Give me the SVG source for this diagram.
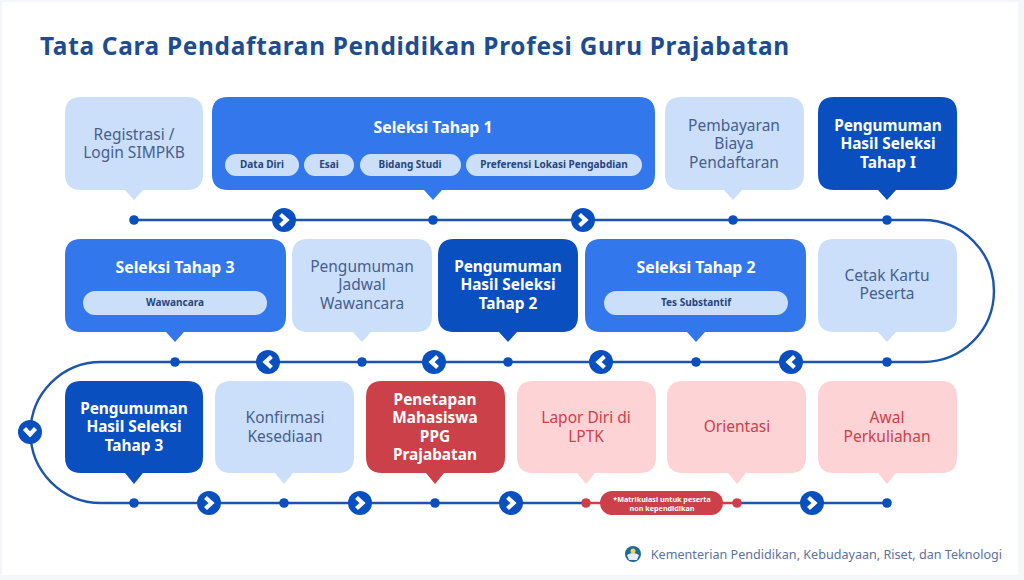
<svg xmlns="http://www.w3.org/2000/svg" width="1024" height="580" viewBox="0 0 1024 580">
<style>
text{font-family:"Noto Sans","Open Sans","Liberation Sans",sans-serif;text-anchor:middle}
.light{fill:#cbdffa}.mid{fill:#3277ec}.dark{fill:#0a4fc0}.red{fill:#cc4049}.pink{fill:#fdd3d6}
.tl{font-size:15.5px;fill:#46608f}.tw{font-size:15.4px;font-weight:700;fill:#fff}.th{font-size:15.8px;font-weight:700;fill:#fff}.tp{font-size:15.5px;fill:#cc4049}
.chip{font-size:10px;font-weight:700;fill:#27467c}.pill{fill:#cbdffa}
.line{fill:none;stroke:#1d55ad;stroke-width:2.4}.dot{fill:#0a4fc0}.rdot{fill:#cc4049}.chev{fill:none;stroke:#fff;stroke-width:4.2;stroke-linecap:butt;stroke-linejoin:miter}
</style>
<defs>
<g id="chv"><circle r="12" fill="#0a4fc0"/><path class="chev" d="M-3.500-5.500 2.500 0-3.500 5.500"/></g>
</defs>
<rect width="1024" height="580" fill="#f4f6f9"/>
<rect x="2" y="2" width="1016" height="573" fill="#fff"/>
<text id="title" x="40" y="55" style="text-anchor:start;font-size:24.4px;font-weight:700;fill:#1d4c8f;letter-spacing:.7px">Tata Cara Pendaftaran Pendidikan Profesi Guru Prajabatan</text>

<g id="connectors">
<path class="line" d="M134 220H923A71 71 0 0 1 923 362H101A70.500 70.500 0 0 0 101 503H586"/>
<path class="line" d="M737 503H887"/>
<path d="M586 503H737" fill="none" stroke="#cc4049" stroke-width="2.400"/>
</g>

<g id="dots">
<circle class="dot" cx="134" cy="220" r="4.800"/><circle class="dot" cx="433" cy="220" r="4.800"/><circle class="dot" cx="733" cy="220" r="4.800"/><circle class="dot" cx="887" cy="220" r="4.800"/>
<circle class="dot" cx="175" cy="362" r="4.800"/><circle class="dot" cx="362" cy="362" r="4.800"/><circle class="dot" cx="508" cy="362" r="4.800"/><circle class="dot" cx="696" cy="362" r="4.800"/><circle class="dot" cx="887" cy="362" r="4.800"/>
<circle class="dot" cx="134" cy="503" r="4.800"/><circle class="dot" cx="284" cy="503" r="4.800"/><circle class="dot" cx="435" cy="503" r="4.800"/><circle class="rdot" cx="586" cy="503" r="4.800"/><circle class="rdot" cx="737" cy="503" r="4.800"/><circle class="dot" cx="887" cy="503" r="4.800"/>
</g>
<g id="chevrons">
<use href="#chv" x="284" y="220"/><use href="#chv" x="583" y="220"/>
<use href="#chv" transform="translate(268 362) rotate(180)"/><use href="#chv" transform="translate(434 362) rotate(180)"/><use href="#chv" transform="translate(601 362) rotate(180)"/><use href="#chv" transform="translate(791 362) rotate(180)"/>
<use href="#chv" transform="translate(30 432) rotate(90)"/>
<use href="#chv" x="209" y="503"/><use href="#chv" x="360" y="503"/><use href="#chv" x="511" y="503"/><use href="#chv" x="812" y="503"/>
</g>

<g id="n1"><path class="light" d="M81 97H187Q203 97 203 113V174Q203 190 187 190H143L134 200 125 190H81Q65 190 65 174V113Q65 97 81 97Z"/><text class="tl" x="134" y="140">Registrasi /</text><text class="tl" x="134" y="158">Login SIMPKB</text></g>

<g id="n2"><path class="mid" d="M228 97H639Q655 97 655 113V174Q655 190 639 190H442L433 200 424 190H228Q212 190 212 174V113Q212 97 228 97Z"/><text class="th" x="433" y="133">Seleksi Tahap 1</text>
<rect class="pill" x="225" y="154" width="74" height="22" rx="11"/><text class="chip" x="262" y="168">Data Diri</text>
<rect class="pill" x="304" y="154" width="50" height="22" rx="11"/><text class="chip" x="329" y="168">Esai</text>
<rect class="pill" x="360" y="154" width="101" height="22" rx="11"/><text class="chip" x="410" y="168">Bidang Studi</text>
<rect class="pill" x="466" y="154" width="176" height="22" rx="11"/><text class="chip" x="554" y="168">Preferensi Lokasi Pengabdian</text></g>

<g id="n3"><path class="light" d="M681 97H788Q804 97 804 113V174Q804 190 788 190H742L733 200 724 190H681Q665 190 665 174V113Q665 97 681 97Z"/><text class="tl" x="734" y="131">Pembayaran</text><text class="tl" x="734" y="149">Biaya</text><text class="tl" x="734" y="168">Pendaftaran</text></g>

<g id="n4"><path class="dark" d="M834 97H941Q957 97 957 113V174Q957 190 941 190H896L887 200 878 190H834Q818 190 818 174V113Q818 97 834 97Z"/><text class="tw" x="888" y="131">Pengumuman</text><text class="tw" x="888" y="149">Hasil Seleksi</text><text class="tw" x="888" y="168">Tahap I</text></g>

<g id="n5"><path class="mid" d="M81 239H270Q286 239 286 255V316Q286 332 270 332H184L175 342 166 332H81Q65 332 65 316V255Q65 239 81 239Z"/><text class="th" x="175" y="273">Seleksi Tahap 3</text><rect class="pill" x="83" y="291" width="184" height="24" rx="12"/><text class="chip" x="175" y="306">Wawancara</text></g>

<g id="n6"><path class="light" d="M308 239H416Q432 239 432 255V316Q432 332 416 332H371L362 342 353 332H308Q292 332 292 316V255Q292 239 308 239Z"/><text class="tl" x="362" y="272">Pengumuman</text><text class="tl" x="362" y="290">Jadwal</text><text class="tl" x="362" y="309">Wawancara</text></g>

<g id="n7"><path class="dark" d="M454 239H562Q578 239 578 255V316Q578 332 562 332H517L508 342 499 332H454Q438 332 438 316V255Q438 239 454 239Z"/><text class="tw" x="508" y="272">Pengumuman</text><text class="tw" x="508" y="290">Hasil Seleksi</text><text class="tw" x="508" y="309">Tahap 2</text></g>

<g id="n8"><path class="mid" d="M601 239H790Q806 239 806 255V316Q806 332 790 332H705L696 342 687 332H601Q585 332 585 316V255Q585 239 601 239Z"/><text class="th" x="696" y="273">Seleksi Tahap 2</text><rect class="pill" x="604" y="291" width="184" height="24" rx="12"/><text class="chip" x="696" y="306">Tes Substantif</text></g>

<g id="n9"><path class="light" d="M834 239H941Q957 239 957 255V316Q957 332 941 332H896L887 342 878 332H834Q818 332 818 316V255Q818 239 834 239Z"/><text class="tl" x="887" y="281">Cetak Kartu</text><text class="tl" x="887" y="299">Peserta</text></g>

<g id="n10"><path class="dark" d="M81 381H187Q203 381 203 397V457Q203 473 187 473H143L134 484 125 473H81Q65 473 65 457V397Q65 381 81 381Z"/><text class="tw" x="134" y="414">Pengumuman</text><text class="tw" x="134" y="432">Hasil Seleksi</text><text class="tw" x="134" y="451">Tahap 3</text></g>

<g id="n11"><path class="light" d="M231 381H338Q354 381 354 397V457Q354 473 338 473H293L284 484 275 473H231Q215 473 215 457V397Q215 381 231 381Z"/><text class="tl" x="285" y="423">Konfirmasi</text><text class="tl" x="285" y="442">Kesediaan</text></g>

<g id="n12"><path class="red" d="M382 381H489Q505 381 505 397V457Q505 473 489 473H444L435 484 426 473H382Q366 473 366 457V397Q366 381 382 381Z"/><text class="tw" x="435" y="405">Penetapan</text><text class="tw" x="435" y="423">Mahasiswa</text><text class="tw" x="435" y="442">PPG</text><text class="tw" x="435" y="460">Prajabatan</text></g>

<g id="n13"><path class="pink" d="M533 381H640Q656 381 656 397V457Q656 473 640 473H595L586 484 577 473H533Q517 473 517 457V397Q517 381 533 381Z"/><text class="tp" x="586" y="423">Lapor Diri di</text><text class="tp" x="586" y="442">LPTK</text></g>

<g id="n14"><path class="pink" d="M683 381H790Q806 381 806 397V457Q806 473 790 473H746L737 484 728 473H683Q667 473 667 457V397Q667 381 683 381Z"/><text class="tp" x="737" y="432">Orientasi</text></g>

<g id="n15"><path class="pink" d="M834 381H941Q957 381 957 397V457Q957 473 941 473H896L887 484 878 473H834Q818 473 818 457V397Q818 381 834 381Z"/><text class="tp" x="887" y="423">Awal</text><text class="tp" x="887" y="442">Perkuliahan</text></g>

<g id="note"><rect class="red" x="600" y="491" width="123" height="24" rx="12"/><text x="662" y="502" style="font-size:7.200px;font-weight:700;fill:#fff">*Matrikulasi untuk peserta</text><text x="662" y="511" style="font-size:7.200px;font-weight:700;fill:#fff">non kependidikan</text></g>

<g id="footer"><circle cx="633" cy="554" r="8" fill="#1d6a97"/><path d="M627 555Q633 551 639 555L637 560H629Z" fill="#e6eef2"/><circle cx="633" cy="551" r="2.500" fill="#f0d060"/>
<text x="1002" y="559" style="text-anchor:end;font-size:12.600px;fill:#5d7299">Kementerian Pendidikan, Kebudayaan, Riset, dan Teknologi</text></g>
</svg>
